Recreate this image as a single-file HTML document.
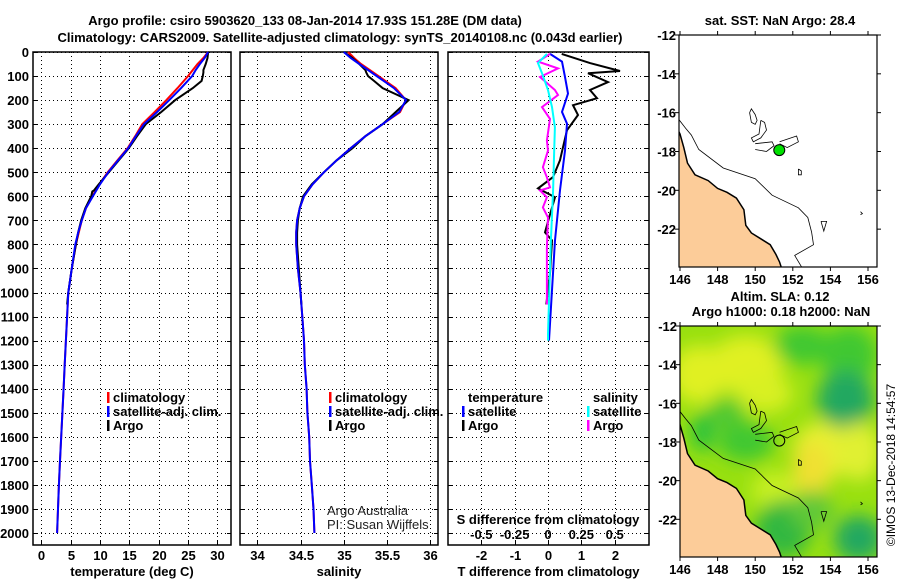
<!DOCTYPE html>
<html><head><meta charset="utf-8">
<style>
html,body{margin:0;padding:0;background:#fff;}
svg{display:block;font-family:"Liberation Sans",sans-serif;}
.b{font-weight:bold;font-size:13px;}
.grid{stroke:#000;stroke-width:1;stroke-dasharray:1,3;shape-rendering:crispEdges;}
</style></head>
<body>
<svg id="fig" width="900" height="580" viewBox="0 0 900 580">
<defs>
<filter id="blur" x="-50%" y="-50%" width="200%" height="200%"><feGaussianBlur stdDeviation="9"/></filter>
<clipPath id="clipBot"><rect x="680" y="326" width="197" height="231"/></clipPath>
<clipPath id="clipTop"><rect x="679" y="35" width="198" height="232"/></clipPath>
</defs>
<text class="b" x="305" y="25" text-anchor="middle">Argo profile: csiro 5903620_133 08-Jan-2014 17.93S 151.28E (DM data)</text>
<text class="b" x="340" y="42" text-anchor="middle">Climatology: CARS2009. Satellite-adjusted climatology: synTS_20140108.nc (0.043d earlier)</text>
<g id="plots"></g>
<g id="maps"></g>
<text x="895" y="465" font-size="12" text-anchor="middle" transform="rotate(-90 895 465)">©IMOS 13-Dec-2018 14:54:57</text>
</svg>
<script>
// ---------- data ----------
const depthTicks = [0,100,200,300,400,500,600,700,800,900,1000,1100,1200,1300,1400,1500,1600,1700,1800,1900,2000];
const tTicks = [0,5,10,15,20,25,30];
const sTicks = [34,34.5,35,35.5,36];
const dTTicks = [-2,-1,0,1,2];
const dSTicks = [-0.5,-0.25,0,0.25,0.5];
const dSTickLabels = ["-0.5","-0.25","0","0.25","0.5"];

const climDepth = [0,25,50,75,100,150,200,250,300,350,400,450,500,550,600,650,700,750,800,900,1000,1100,1200,1300,1400,1500,1600,1700,1800,1900,2000];
const climT = [28.4,27.6,26.6,25.8,25.0,23.2,21.3,19.3,17.2,16.0,14.7,13.0,11.3,9.9,8.7,7.6,6.9,6.4,5.9,5.2,4.6,4.4,4.2,4.0,3.8,3.6,3.4,3.2,3.0,2.85,2.7];
const satT  = [28.4,27.8,27.0,26.3,25.7,23.8,21.8,19.7,17.5,16.1,14.8,13.1,11.4,10.0,8.8,7.6,6.9,6.3,5.8,5.2,4.6,4.4,4.2,4.0,3.8,3.6,3.4,3.2,3.0,2.85,2.7];
const climS = [35.05,35.12,35.2,35.3,35.4,35.6,35.72,35.65,35.45,35.25,35.08,34.92,34.77,34.64,34.54,34.49,34.46,34.45,34.45,34.47,34.5,34.52,34.54,34.55,34.57,34.58,34.6,34.61,34.63,34.65,34.66];
const satS  = [35.0,35.08,35.18,35.28,35.38,35.58,35.72,35.64,35.45,35.25,35.08,34.92,34.77,34.64,34.54,34.49,34.46,34.45,34.45,34.47,34.5,34.52,34.54,34.55,34.57,34.58,34.6,34.61,34.63,34.65,34.66];

const argoDepth = [0,25,50,75,85,100,120,150,200,250,300,350,400,450,500,550,575,580,600,650,700,750,800,900,1000,1050];
const argoT = [28.4,28.3,28.0,27.6,27.6,27.5,27.3,25.8,22.8,20.4,17.8,16.3,14.9,13.2,11.5,9.8,9.0,8.7,8.5,7.5,6.8,6.3,5.9,5.2,4.6,4.4];
const argoS = [35.0,35.1,35.18,35.25,35.26,35.28,35.35,35.45,35.75,35.6,35.45,35.25,35.1,34.92,34.77,34.63,34.58,34.57,34.53,34.49,34.47,34.46,34.46,34.48,34.5,34.51];

const dArgoTDepth = [8,46,79,88,125,158,192,221,262,325,396,450,520,567,604,680,750,783,921,1025,1050];
const dArgoT = [0.41,1.26,2.16,1.2,1.8,1.26,1.47,0.75,0.9,0.57,0.45,0.36,0.15,-0.3,0.21,0.05,-0.09,0.12,0.06,-0.03,-0.05];
const dSatTDepth = [8,40,104,173,249,298,410,575,783,990,1200];
const dSatT = [0.06,0.42,0.51,0.6,0.42,0.57,0.51,0.36,0.21,0.12,0.03];
const dArgoSDepth = [8,40,68,104,158,179,229,278,368,410,479,521,563,576,604,646,688,813,1050];
const dArgoS = [0.015,-0.075,0.075,-0.06,0.052,0.075,-0.045,0.015,-0.008,0,-0.038,-0.008,0.015,-0.06,-0.008,-0.038,0,-0.008,-0.008];
const dSatSDepth = [8,46,88,158,229,313,438,576,783,1171,1200];
const dSatS = [-0.008,-0.075,-0.045,0,0.03,0.052,0.045,0.038,0.022,0,0];

// ---------- helpers ----------
const NS = "http://www.w3.org/2000/svg";
const plots = document.getElementById('plots');
function mk(tag, attrs, parent){ const e=document.createElementNS(NS,tag); for(const k in attrs) e.setAttribute(k,attrs[k]); (parent||plots).appendChild(e); return e; }
const yTop=52, yBot=545;
function yD(d){ return yTop + d*0.2405; }
function scale(d0,d1,p0,p1){ return v=> p0+(v-d0)*(p1-p0)/(d1-d0); }
function px(v){ return Math.round(v)+0.5; }
const panels = [
  {x0:33,x1:231,sx:scale(-1.4,32.3,33,231),ticks:tTicks,lab:tTicks.map(String),title:"temperature (deg C)",name:"temperature"},
  {x0:240,x1:438,sx:scale(33.8,36.09,240,438),ticks:sTicks,lab:sTicks.map(String),title:"salinity",name:"salinity"},
  {x0:448,x1:649,sx:scale(-3,3.03,448,649),ticks:dTTicks,lab:dTTicks.map(String),title:"T difference from climatology",name:"difference"}
];
panels.forEach((p,i)=>{
  const g=mk('g',{});
  
  
  depthTicks.forEach(d=>{
    const y=px(yD(d));
    const l=mk('line',{x1:p.x0,x2:p.x1,y1:y,y2:y,class:'grid'},g);
    
    
    mk('line',{x1:p.x0,x2:p.x0+4,y1:y,y2:y,stroke:'#000'},g);
    mk('line',{x1:p.x1-4,x2:p.x1,y1:y,y2:y,stroke:'#000'},g);
  });
  p.ticks.forEach((t,k)=>{
    const x=px(p.sx(t));
    const l=mk('line',{x1:x,x2:x,y1:yTop,y2:yBot,class:'grid'},g);
    
    
    mk('line',{x1:x,x2:x,y1:yBot-4,y2:yBot,stroke:'#000'},g);
    const tx=mk('text',{x:x,y:560,class:'b','text-anchor':'middle'},g);
    tx.textContent=p.lab[k];
    
    
  });
  const r=mk('rect',{x:p.x0,y:yTop,width:p.x1-p.x0,height:yBot-yTop,fill:'none',stroke:'#000','stroke-width':1.5},g);
  
  
  const tt=mk('text',{x:(p.x0+p.x1)/2,y:576,class:'b','text-anchor':'middle'},g);
  tt.textContent=p.title;
  
  
});
depthTicks.forEach(d=>{
  const t=mk('text',{x:29,y:yD(d)+5,class:'b','text-anchor':'end'});
  t.textContent=String(d);
  
  
});
function line(xs,ds,sx,color,name,w){
  const pts=xs.map((v,i)=>sx(v).toFixed(1)+','+yD(ds[i]).toFixed(1)).join(' ');
  const pl=mk('polyline',{points:pts,fill:'none',stroke:color,'stroke-width':w||2,'stroke-linejoin':'miter'});
  
  
}
const P=panels;
line(climT,climDepth,P[0].sx,'#f00','temperature-climatology-line');
line(argoT,argoDepth,P[0].sx,'#000','temperature-argo-line');
line(satT,climDepth,P[0].sx,'#00f','temperature-satellite-line');
line(climS,climDepth,P[1].sx,'#f00','salinity-climatology-line');
line(argoS,argoDepth,P[1].sx,'#000','salinity-argo-line');
line(satS,climDepth,P[1].sx,'#00f','salinity-satellite-line');
const sxS=v=>P[2].sx(v*4);
line(dArgoT,dArgoTDepth,P[2].sx,'#000','t-diff-argo-line');
line(dSatT,dSatTDepth,P[2].sx,'#00f','t-diff-satellite-line');
line(dArgoS,dArgoSDepth,sxS,'#f0f','s-diff-argo-line');
line(dSatS,dSatSDepth,sxS,'#0ff','s-diff-satellite-line');

// legends
function legend(x,y,color,label,name){
  if(color){ const b=mk('rect',{x:x-6,y:y-10,width:2.5,height:11,fill:color});
      }
  const t=mk('text',{x:x,y:y,class:'b'}); t.textContent=label;
   
}
legend(113,402,'#f00','climatology','legend-climatology');
legend(113,416,'#00f','satellite-adj. clim.','legend-satellite-adj');
legend(113,430,'#000','Argo','legend-argo');
legend(335,402,'#f00','climatology','legend-climatology-sal');
legend(335,416,'#00f','satellite-adj. clim.','legend-satellite-adj-sal');
legend(335,430,'#000','Argo','legend-argo-sal');
legend(468,402,null,'temperature','legend-temperature-header');
legend(468,416,'#00f','satellite','legend-t-satellite');
legend(468,430,'#000','Argo','legend-t-argo');
legend(593,402,null,'salinity','legend-salinity-header');
legend(593,416,'#0ff','satellite','legend-s-satellite');
legend(593,430,'#f0f','Argo','legend-s-argo');
[["Argo Australia",515],["PI: Susan Wijffels",529]].forEach(([s,y])=>{
  const t=mk('text',{x:327,y:y,'font-size':13,fill:'#222'}); t.textContent=s;
   
});
const st=mk('text',{x:548,y:524,class:'b','text-anchor':'middle'}); st.textContent='S difference from climatology';
 
dSTicks.forEach((v,i)=>{
  const t=mk('text',{x:sxS(v),y:539,class:'b','text-anchor':'middle'}); t.textContent=dSTickLabels[i];
   
});

// ---------- maps ----------
const maps=document.getElementById('maps');
const lonTicks=[146,148,150,152,154,156];
const latTicks=[-12,-14,-16,-18,-20,-22];
const coastLon=[145.9,146.0,146.2,146.4,146.8,147.5,148.0,148.5,149.0,149.4,149.5,149.8,150.3,150.8,151.1,151.3,151.4,145.9];
const coastLat=[-16.9,-17.1,-17.8,-18.6,-19.2,-19.5,-19.9,-20.1,-20.4,-21.0,-21.8,-22.2,-22.5,-22.8,-23.3,-23.7,-24.0,-24.0];
const c200Lon=[145.9,146.3,146.6,147.0,148.3,150.0,150.9,152.3,152.8,153.0,153.1,152.1,152.5];
const c200Lat=[-16.3,-16.8,-17.15,-17.9,-18.85,-19.4,-20.25,-20.9,-21.4,-22.15,-22.8,-23.35,-24.0];
const reefs=[
 {lon:[149.7,149.8,150.0,150.1,150.0,149.8,149.7],lat:[-16.0,-15.8,-16.1,-16.4,-16.6,-16.5,-16.0]},
 {lon:[150.3,150.5,150.6,150.3,149.9,149.8,150.2,150.3],lat:[-16.4,-16.5,-16.9,-17.3,-17.5,-17.3,-17.1,-16.4]},
 {lon:[150.0,150.9,151.0,150.6,150.0],lat:[-17.6,-17.5,-17.7,-18.0,-17.9]},
 {lon:[151.3,152.2,152.3,151.7,151.3],lat:[-17.5,-17.2,-17.5,-17.8,-17.6]},
 {lon:[152.3,152.45,152.45,152.3,152.3],lat:[-18.9,-19.0,-19.2,-19.2,-18.9]},
 {lon:[153.5,153.8,153.65,153.5],lat:[-21.6,-21.6,-22.1,-21.6]},
 {lon:[155.6,155.7,155.6],lat:[-21.1,-21.2,-21.25]}
];
const floatLon=151.28, floatLat=-17.93;
// SLA field blobs
const slaLon=[147.0,149.5,150.5,152.5,155.0,154.8,153.5,153.0,149.5,151.0,155.5,151.5,148.5,147.2,153.0,155.5];
const slaLat=[-14.5,-14.0,-15.5,-13.0,-13.5,-15.8,-18.5,-19.5,-18.0,-20.5,-18.5,-22.5,-16.5,-17.5,-21.5,-23.0];
const slaRx=[1.5,2.0,1.5,1.5,1.5,1.5,1.5,1.0,1.5,1.2,1.2,1.5,1.0,0.6,1.2,1.3];
const slaRy=[1.5,1.5,1.0,1.0,1.5,1.5,1.5,1.5,1.0,1.0,1.5,1.5,0.8,1.0,1.0,1.2];
const slaCol=['#e0f020','#e0f020','#d8f020','#40c830','#40c830','#20a860','#e8f030','#f0e030','#40c830','#c8f020','#e0f030','#30b840','#50c830','#20c040','#60c838','#20a860'];

function mapFrame(top,bottom,name){
  const lx=scale(146,156,680,868), ly=scale(-12,-22,top,top+(bottom-top)*10/11.95);
  const g=mk('g',{},maps);
  
  
  return {g,lx,ly,top,bottom};
}
function drawPoly(m,lons,lats,attrs,nm){
  const pts=lons.map((v,i)=>m.lx(v).toFixed(1)+','+m.ly(lats[i]).toFixed(1)).join(' ');
  const e=mk('polyline',Object.assign({points:pts},attrs),m.g);
  
  
  return e;
}
function axes(m,x0,x1){
  const r=mk('rect',{x:x0,y:m.top,width:x1-x0,height:m.bottom-m.top,fill:'none',stroke:'#000','stroke-width':1.2},m.g);
  
  
  latTicks.forEach(v=>{
    const y=m.ly(v);
    mk('line',{x1:x0-4,x2:x0,y1:y,y2:y,stroke:'#000'},m.g);
    mk('line',{x1:x1,x2:x1+4,y1:y,y2:y,stroke:'#000'},m.g);
    const t=mk('text',{x:x0-3,y:y+5,class:'b','text-anchor':'end'},m.g); t.textContent=String(v);
     
  });
  lonTicks.forEach(v=>{
    const x=m.lx(v);
    mk('line',{x1:x,x2:x,y1:m.top-4,y2:m.top,stroke:'#000'},m.g);
    mk('line',{x1:x,x2:x,y1:m.bottom,y2:m.bottom+4,stroke:'#000'},m.g);
    const t=mk('text',{x:x,y:m.bottom+17,class:'b','text-anchor':'middle'},m.g); t.textContent=String(v);
     
  });
}
const m1=mapFrame(35,267,'sst-map');
const c1=mk('g',{'clip-path':'url(#clipTop)'},m1.g);
const m1c={g:c1,lx:m1.lx,ly:m1.ly};
drawPoly(m1c,coastLon,coastLat,{fill:'#fccc99',stroke:'#000','stroke-width':1.5},'land');
drawPoly(m1c,c200Lon,c200Lat,{fill:'none',stroke:'#000','stroke-width':0.8},'isobath-contour');
reefs.forEach(r=>drawPoly(m1c,r.lon,r.lat,{fill:'none',stroke:'#000','stroke-width':0.8},'reef-contour'));
const fm=mk('circle',{cx:m1.lx(floatLon),cy:m1.ly(floatLat),r:5.5,fill:'#00e000',stroke:'#000'},m1.g);
 
axes(m1,679,877);
const tt1=mk('text',{x:780,y:25,class:'b','text-anchor':'middle'},m1.g); tt1.textContent='sat. SST: NaN Argo: 28.4';
 

const m2=mapFrame(326,557,'sla-map');
const c2=mk('g',{'clip-path':'url(#clipBot)'},m2.g);
mk('rect',{x:680,y:326,width:197,height:231,fill:'#98e010'},c2);
const fg=mk('g',{filter:'url(#blur)'},c2);
slaLon.forEach((v,i)=>{
  const e=mk('ellipse',{cx:m2.lx(v),cy:m2.ly(slaLat[i]),rx:slaRx[i]*18.8,ry:slaRy[i]*19.4,fill:slaCol[i]},fg);
   
});
const m2c={g:c2,lx:m2.lx,ly:m2.ly};
drawPoly(m2c,coastLon,coastLat,{fill:'#fccc99',stroke:'#000','stroke-width':1.5},'land');
drawPoly(m2c,c200Lon,c200Lat,{fill:'none',stroke:'#000','stroke-width':0.8},'isobath-contour');
reefs.forEach(r=>drawPoly(m2c,r.lon,r.lat,{fill:'none',stroke:'#000','stroke-width':0.8},'reef-contour'));
const fm2=mk('circle',{cx:m2.lx(floatLon),cy:m2.ly(floatLat),r:5.5,fill:'none',stroke:'#000'},m2.g);
 
axes(m2,680,877);
const tt2=mk('text',{x:780,y:301,class:'b','text-anchor':'middle'},m2.g); tt2.textContent='Altim. SLA: 0.12';
 
const tt3=mk('text',{x:781,y:316,class:'b','text-anchor':'middle'},m2.g); tt3.textContent='Argo h1000: 0.18 h2000: NaN';
 
</script>
</body></html>
